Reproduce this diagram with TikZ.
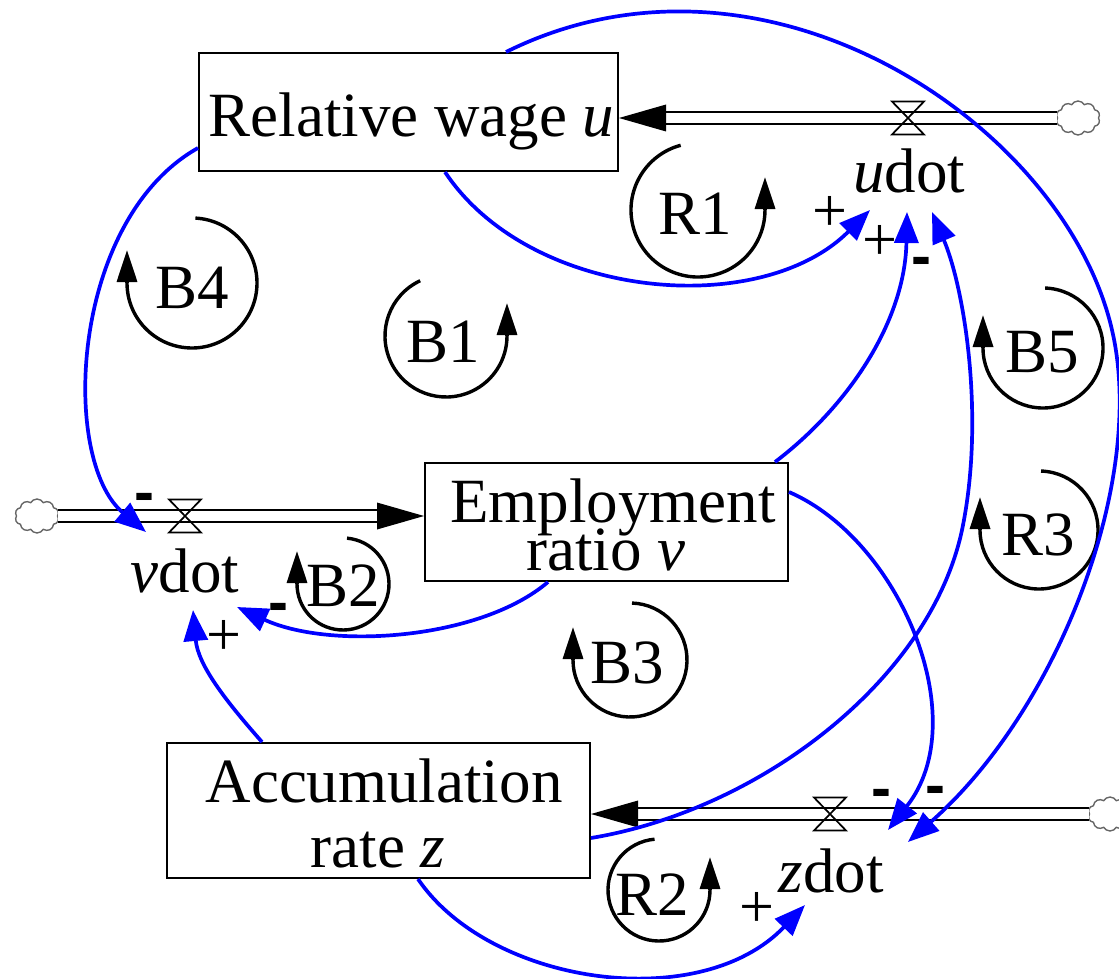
\documentclass[tikz,border=0pt]{standalone}
\usepackage{fontspec}
\setmainfont{Liberation Serif}
\newfontfamily\signfont{Liberation Sans}
\usetikzlibrary{arrows.meta,shapes.symbols,calc}
\begin{document}
\begin{tikzpicture}[x=1pt,y=1pt,
  every node/.style={font=\fontsize{63pt}{66pt}\selectfont, inner sep=0pt},
  stockbox/.style={draw, line width=2pt, rectangle},
  lbl/.style={anchor=base},
  conn/.style={draw=blue, line width=3.7pt, -{Triangle[length=31pt,width=24pt]}},
  loopline/.style={line width=3.4pt},
  looptip/.style={line width=3.4pt, -{Triangle[length=32pt,width=20pt]}},
  pipe/.style={line width=2pt, double=white, double distance=10pt},
  cloudy/.style={cloud, cloud puffs=10, cloud puff arc=120, aspect=1.3, draw=black!60, line width=1.4pt, minimum width=44pt, minimum height=34pt},
  valvest/.style={line width=1.7pt},
  signplus/.style={font=\fontsize{62pt}{64pt}\selectfont},
  signminus/.style={anchor=base, font=\signfont\bfseries\fontsize{60pt}{64pt}\selectfont},
]
\useasboundingbox (0,0) rectangle (1119,-979);

% stocks
\node[stockbox, minimum width=419pt, minimum height=118pt] (rw) at (408.5,-112) {};
\node[stockbox, minimum width=363pt, minimum height=118pt] (emp) at (606.5,-522) {};
\node[stockbox, minimum width=423pt, minimum height=135pt] (acc) at (378.5,-810.5) {};

\node[lbl] (rwT) at (411.5,-137) {Relative wage \textit{u}};
\node[lbl] (empT1) at (613,-522) {Employment};
\node[lbl] (empT2) at (606,-570) {ratio \textit{v}};
\node[lbl] (accT1) at (384,-802) {Accumulation};
\node[lbl] (accT2) at (378,-867) {rate \textit{z}};

% clouds
\node[cloudy] (cloudU) at (1078,-118) {};
\node[cloudy] (cloudV) at (37,-516) {};
\node[cloudy] (cloudZ) at (1110,-814) {};

% pipes
\draw[pipe] (cloudU.west) -- ($(cloudU.west -| rw.east)+(46,0)$);
\fill (cloudU.west -| rw.east) -- ++(47,13.5) -- ++(0,-27) -- cycle;
\draw[pipe] (cloudV.east) -- ($(cloudV.east -| emp.west)+(-46,0)$);
\fill (cloudV.east -| emp.west) -- ++(-47,13.5) -- ++(0,-27) -- cycle;
\draw[pipe] (cloudZ.west) -- ($(cloudZ.west -| acc.east)+(46,0)$);
\fill (cloudZ.west -| acc.east) -- ++(47,13.5) -- ++(0,-27) -- cycle;

% valves
\coordinate (vU) at (908,-118);
\coordinate (vV) at (185,-516);
\coordinate (vZ) at (830,-814);
\foreach \v in {vU,vV,vZ}
  \draw[valvest] ($(\v)+(-16,16.5)$) -- ++(32,0) -- ++(-32,-33) -- ++(32,0) -- cycle;

% flow labels
\node[lbl] (udot) at (909,-193) {\textit{u}dot};
\node[lbl] (vdot) at (185,-592) {\textit{v}dot};
\node[lbl] (zdot) at (831,-892) {\textit{z}dot};

% loops (counter-clockwise, arrow at right)
\coordinate (cR1) at (698,-210);
\draw[loopline] ([shift={(105:67pt)}]cR1) arc[start angle=105, end angle=360, radius=67pt];
\draw[looptip] ([shift={(0:67pt)}]cR1) -- ++(0,33);
\node[lbl] (R1) at (695,-234) {R1};

\coordinate (cB1) at (446,-336);
\draw[loopline] ([shift={(115:61pt)}]cB1) arc[start angle=115, end angle=360, radius=61pt];
\draw[looptip] ([shift={(0:61pt)}]cB1) -- ++(0,33);
\node[lbl] (B1) at (443,-362) {B1};

\coordinate (cR2) at (659,-890);
\draw[loopline] ([shift={(95:51pt)}]cR2) arc[start angle=95, end angle=360, radius=51pt];
\draw[looptip] ([shift={(0:51pt)}]cR2) -- ++(0,33);
\node[lbl] (R2) at (652,-915) {R2};

% loops (clockwise, arrow at left)
\coordinate (cB4) at (192,-283);
\draw[loopline] ([shift={(87:65pt)}]cB4) arc[start angle=87, end angle=-180, radius=65pt];
\draw[looptip] ([shift={(180:65pt)}]cB4) -- ++(0,33);
\node[lbl] (B4) at (192,-308) {B4};

\coordinate (cB5) at (1043,-348);
\draw[loopline] ([shift={(88:60pt)}]cB5) arc[start angle=88, end angle=-180, radius=60pt];
\draw[looptip] ([shift={(180:60pt)}]cB5) -- ++(0,33);
\node[lbl] (B5) at (1042,-372) {B5};

\coordinate (cR3) at (1039,-530);
\draw[loopline] ([shift={(88:59pt)}]cR3) arc[start angle=88, end angle=-180, radius=59pt];
\draw[looptip] ([shift={(180:59pt)}]cR3) -- ++(0,33);
\node[lbl] (R3) at (1038,-555) {R3};

\coordinate (cB2) at (343,-584);
\draw[loopline] ([shift={(85:46pt)}]cB2) arc[start angle=85, end angle=-180, radius=46pt];
\draw[looptip] ([shift={(180:46pt)}]cB2) -- ++(0,33);
\node[lbl] (B2) at (343,-606) {B2};

\coordinate (cB3) at (630,-660);
\draw[loopline] ([shift={(88:57pt)}]cB3) arc[start angle=88, end angle=-180, radius=57pt];
\draw[looptip] ([shift={(180:57pt)}]cB3) -- ++(0,33);
\node[lbl] (B3) at (627,-683) {B3};

% polarity signs
\node[signplus] (p1) at (830,-214) {+};
\node[signplus] (p2) at (880,-243) {+};
\node[signplus] (p3) at (224,-638) {+};
\node[signplus] (p4) at (757,-910) {+};
\node[signminus] (m1) at (921,-276) {-};
\node[signminus] (m2) at (144,-512) {-};
\node[signminus] (m3) at (278,-622) {-};
\node[signminus] (m4) at (881,-808) {-};
\node[signminus] (m5) at (935,-805) {-};

% causal links
\draw[conn] ([xshift=36.5pt]rw.south) .. controls (530,-300) and (760,-320) .. ([shift={(-39pt,-17pt)}]udot.base);
\draw[conn] ([xshift=168.5pt]emp.north) .. controls (850,-405) and (905,-320) .. ([shift={(-2pt,-19pt)}]udot.base);
\draw[conn] ([yshift=-27.5pt]acc.east) .. controls (760,-810) and (930,-680) .. (962,-530) .. controls (985,-420) and (965,-290) .. ([shift={(23pt,-19pt)}]udot.base);
\draw[conn] ([xshift=97.5pt]rw.north) .. controls (766,77) and (1065,-125) .. (1112,-330) .. controls (1147,-480) and (1058,-710) .. ([shift={(77pt,50pt)}]zdot.base);
\draw[conn] ([yshift=-36pt]rw.west) .. controls (70,-220) and (60,-460) .. ([shift={(-39pt,60pt)}]vdot.base);
\draw[conn] ([xshift=-58.5pt]emp.south) .. controls (480,-640) and (330,-650) .. ([shift={(52pt,-15pt)}]vdot.base);
\draw[conn] ([xshift=-116.5pt]acc.north) .. controls (225,-700) and (198,-665) .. ([shift={(8pt,-18pt)}]vdot.base);
\draw[conn] ([yshift=30pt]emp.east) .. controls (900,-540) and (975,-720) .. ([shift={(57pt,62pt)}]zdot.base);
\draw[conn] ([xshift=39.5pt]acc.south) .. controls (490,-985) and (700,-1015) .. ([shift={(-26pt,-13pt)}]zdot.base);
\end{tikzpicture}
\end{document}
